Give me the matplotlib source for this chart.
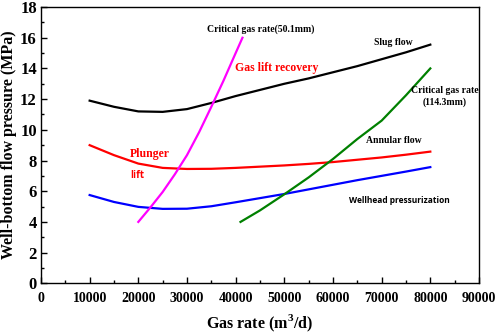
import numpy as np
import matplotlib
matplotlib.use("Agg")
import matplotlib.pyplot as plt
from matplotlib.ticker import MultipleLocator

plt.rcParams['font.family'] = ['Liberation Serif', 'DejaVu Serif']
plt.rcParams['font.weight'] = 'bold'
plt.rcParams['mathtext.fontset'] = 'custom'
plt.rcParams['mathtext.bf'] = 'Liberation Serif:bold'
plt.rcParams['mathtext.rm'] = 'Liberation Serif:bold'

# curves (gas rate in m3/d, pressure in MPa)
rate = [10000, 15000, 20000, 25000, 30000, 35000, 40000, 45000,
        50000, 55000, 60000, 65000, 70000, 75000, 80000]
slug = [11.9, 11.5, 11.2, 11.17, 11.35, 11.75, 12.2, 12.6,
        13.0, 13.35, 13.75, 14.15, 14.6, 15.05, 15.55]
gaslift = [9.0, 8.35, 7.8, 7.52, 7.45, 7.46, 7.52, 7.6,
           7.68, 7.78, 7.9, 8.05, 8.2, 8.38, 8.58]
wellhead = [5.75, 5.3, 4.98, 4.85, 4.86, 5.02, 5.28, 5.55,
            5.82, 6.12, 6.42, 6.72, 7.0, 7.28, 7.57]

crit50_rate = [20000, 22500, 25000, 27500, 30000, 32500, 35000, 37500, 40000, 41400]
crit50 = [4.0, 4.95, 5.95, 7.1, 8.35, 9.85, 11.5, 13.2, 15.0, 16.0]

crit114_rate = [41000, 45000, 50000, 55000, 60000, 65000, 70000, 75000, 80000]
crit114 = [4.0, 4.75, 5.8, 6.9, 8.1, 9.4, 10.6, 12.25, 14.0]

fig = plt.figure(figsize=(4.98, 3.35), dpi=100)
ax = fig.add_axes([0.0823, 0.1543, 0.8795, 0.8247])

lw = 1.6
ax.plot(rate, slug, '-', color='black', lw=lw)
ax.plot(rate, gaslift, '-', color='#ff0000', lw=lw)
ax.plot(rate, wellhead, '-', color='#0000ff', lw=lw)
ax.plot(crit50_rate, crit50, '-', color='#ff00ff', lw=lw)
ax.plot(crit114_rate, crit114, '-', color='#008000', lw=lw)

ax.set_xlim(0, 90000)
ax.set_ylim(0, 18)
ax.xaxis.set_major_locator(MultipleLocator(10000))
ax.xaxis.set_minor_locator(MultipleLocator(5000))
ax.yaxis.set_major_locator(MultipleLocator(2))
ax.yaxis.set_minor_locator(MultipleLocator(1))
ax.tick_params(which='both', direction='in', top=False, right=False)
ax.tick_params(which='major', length=4, width=1)
ax.tick_params(which='minor', length=2.5, width=1)
ax.tick_params(axis='x', labelsize=10, pad=6)
ax.tick_params(axis='y', labelsize=12, pad=3)
for lab in ax.get_xticklabels() + ax.get_yticklabels():
    lab.set_fontweight('bold')
for s in ax.spines.values():
    s.set_linewidth(1)

ax.set_xlabel('Gas rate (m$^\\mathbf{3}$/d)', fontsize=11.5, fontweight='bold', labelpad=6)
ax.set_ylabel('Well-bottom flow pressure (MPa)', fontsize=11.5, fontweight='bold', labelpad=2)

ax.text(45200, 16.57, 'Critical gas rate(50.1mm)', fontsize=7, fontweight='bold',
        ha='center', va='center')
ax.text(72400, 15.7, 'Slug flow', fontsize=7, fontweight='bold', ha='center', va='center')
ax.text(48400, 14.0, 'Gas lift recovery', fontsize=8.5, fontweight='bold',
        color='#ff0000', ha='center', va='center')
ax.text(82900, 12.15, 'Critical gas rate\n(114.3mm)', fontsize=7, fontweight='bold',
        ha='center', va='center', linespacing=1.3)
ax.text(72400, 9.28, 'Annular flow', fontsize=7, fontweight='bold', ha='center', va='center')
ax.text(73660, 5.41, 'Wellhead pressurization', fontsize=6, fontweight='bold',
        family=['Open Sans', 'DejaVu Sans'], ha='center', va='center')
ax.text(22400, 8.41, 'Plunger', fontsize=8.5, fontweight='bold', color='#ff0000',
        ha='center', va='center')
ax.text(19720, 7.0, 'lift', fontsize=7, fontweight='bold', color='#ff0000',
        family=['Open Sans', 'DejaVu Sans'], ha='center', va='center')

fig.savefig('out.png', dpi=100)
